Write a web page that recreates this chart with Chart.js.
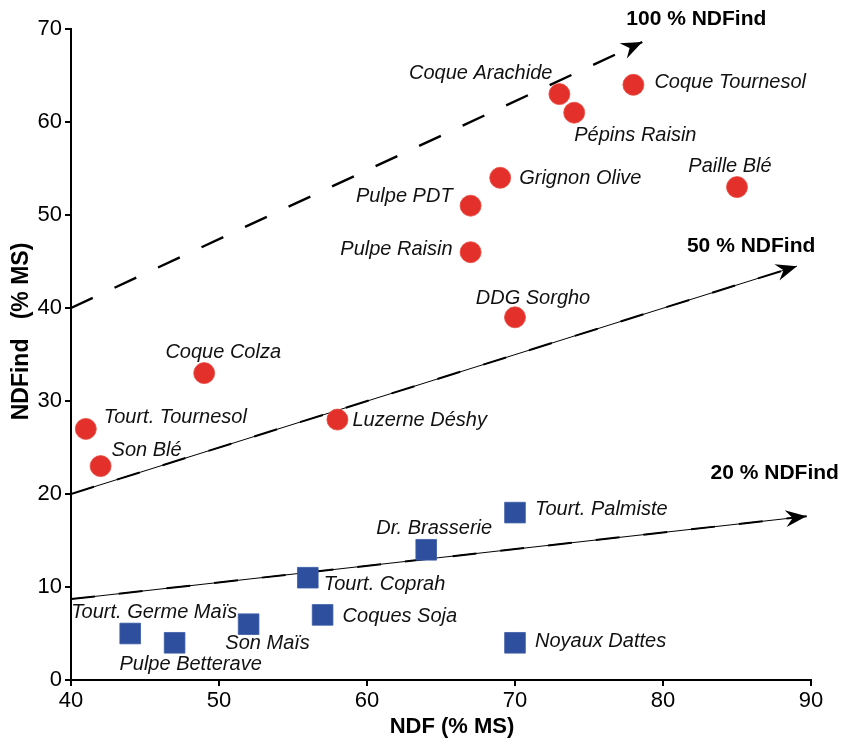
<!DOCTYPE html>
<html>
<head>
<meta charset="utf-8">
<script src="https://cdn.jsdelivr.net/npm/chart.js@4/dist/chart.umd.min.js"></script>
<style>
  body { margin: 0; background: #fff; }
  #wrap { width: 849px; height: 746px; }
</style>
</head>
<body>
<div id="wrap"><canvas id="myChart_ndf" width="849" height="746"></canvas></div>
<script>
// donnees : fourrages / coproduits riches en NDFind (ronds rouges)
var redNames = ['Tourt. Tournesol', 'Son Blé', 'Coque Colza', 'Luzerne Déshy', 'DDG Sorgho', 'Pulpe Raisin',
                'Pulpe PDT', 'Grignon Olive', 'Coque Arachide', 'Pépins Raisin', 'Coque Tournesol', 'Paille Blé'];
var redNDF = [41, 42, 49, 58, 70, 67, 67, 69, 73, 74, 78, 85];
var redNDFind = [27, 23, 33, 28, 39, 46, 51, 54, 63, 61, 64, 53];

// coproduits pauvres en NDFind (carres bleus)
var blueNames = ['Tourt. Germe Maïs', 'Pulpe Betterave', 'Son Maïs', 'Tourt. Coprah', 'Coques Soja',
                 'Dr. Brasserie', 'Tourt. Palmiste', 'Noyaux Dattes'];
var blueNDF = [44, 47, 52, 56, 57, 64, 70, 70];
var blueNDFind = [5, 4, 6, 11, 7, 14, 18, 4];

// droites de reference (debut / fin)
var refNames = ['100 % NDFind', '50 % NDFind', '20 % NDFind'];
var refStartX = [40, 40, 40];
var refStartY = [40, 20, 8.7];
var refEndX = [78.6, 89.05, 89.7];
var refEndY = [68.6, 44.5, 17.6];

var xTicks = [40, 50, 60, 70, 80, 90];
var yTicks = [0, 10, 20, 30, 40, 50, 60, 70];
var xTitle = 'NDF (% MS)';
var yTitle = 'NDFind   (% MS)';

// position des etiquettes (px par rapport au point)
var labelPos = {
    'Tourt. Tournesol': [18, -11, 'left'],
    'Son Blé': [11, -16, 'left'],
    'Coque Colza': [19, -21, 'center'],
    'Luzerne Déshy': [15, 1, 'left'],
    'DDG Sorgho': [18, -19, 'center'],
    'Pulpe Raisin': [-18, -3, 'right'],
    'Pulpe PDT': [-18, -9, 'right'],
    'Grignon Olive': [19, 1, 'left'],
    'Coque Arachide': [-7, -21, 'right'],
    'Pépins Raisin': [0, 23, 'left'],
    'Coque Tournesol': [21, -2, 'left'],
    'Paille Blé': [-7, -21, 'center'],
    'Tourt. Germe Maïs': [24, -21, 'center'],
    'Pulpe Betterave': [16, 22, 'center'],
    'Son Maïs': [19, 19, 'center'],
    'Tourt. Coprah': [16, 7, 'left'],
    'Coques Soja': [20, 2, 'left'],
    'Dr. Brasserie': [8, -21, 'center'],
    'Tourt. Palmiste': [20, -3, 'left'],
    'Noyaux Dattes': [20, -1, 'left']
};
var refLabelPos = [[-16, -23], [-110, -20], [-96, -43]];

var FONT = "'Liberation Sans', Arial, Helvetica, sans-serif";

function toXY(xs, ys) {
    return xs.map(function(x, i) { return {x: x, y: ys[i]}; });
}

var datasets = [
    {
        label: 'rouge',
        data: toXY(redNDF, redNDFind),
        names: redNames,
        pointStyle: 'circle',
        pointRadius: 10.5,
        backgroundColor: '#e3302a',
        borderColor: '#e84a40',
        borderWidth: 0.8,
        order: 0
    },
    {
        label: 'bleu',
        data: toXY(blueNDF, blueNDFind),
        names: blueNames,
        pointStyle: 'rect',
        pointRadius: 14.6,
        backgroundColor: '#2d4f9d',
        borderColor: '#3a5aa6',
        borderWidth: 0.8,
        order: 0
    }
];

refNames.forEach(function(name, i) {
    var pts = [{x: refStartX[i], y: refStartY[i]}, {x: refEndX[i], y: refEndY[i]}];
    // trait fin continu sous les tirets (sauf 100 %)
    if (i > 0) {
        datasets.push({
            label: name + ' fin',
            data: pts,
            showLine: true,
            pointRadius: 0,
            borderColor: '#000',
            borderWidth: 1,
            order: 2
        });
    }
    datasets.push({
        label: name,
        data: pts,
        showLine: true,
        pointRadius: 0,
        borderColor: '#000',
        borderWidth: i == 0 ? 2.4 : 2,
        borderDash: [24, 24],
        arrow: true,
        refIndex: i,
        order: 1
    });
});

// etiquettes des points + fleches + textes des droites + titres d'axes
var labelPlugin = {
    id: 'labels',
    afterDatasetsDraw: function(chart) {
        var c = chart.ctx;
        c.save();
        chart.data.datasets.forEach(function(ds, di) {
            var meta = chart.getDatasetMeta(di);
            if (ds.names) {
                c.font = 'italic 20px ' + FONT;
                c.fillStyle = '#111';
                c.textBaseline = 'middle';
                meta.data.forEach(function(el, j) {
                    var p = labelPos[ds.names[j]] || [15, 0, 'left'];
                    c.textAlign = p[2];
                    c.fillText(ds.names[j], el.x + p[0], el.y + p[1]);
                });
            }
            if (ds.arrow) {
                var a = meta.data[0], b = meta.data[1];
                var ang = Math.atan2(b.y - a.y, b.x - a.x);
                c.save();
                c.translate(b.x, b.y);
                c.rotate(ang);
                c.fillStyle = '#000';
                c.beginPath();
                c.moveTo(0, 0);
                c.lineTo(-21, -8.5);
                c.lineTo(-14, 0);
                c.lineTo(-21, 8.5);
                c.closePath();
                c.fill();
                c.restore();
                var o = refLabelPos[ds.refIndex];
                c.font = 'bold 21px ' + FONT;
                c.textAlign = 'left';
                c.textBaseline = 'middle';
                c.fillStyle = '#000';
                c.fillText(ds.label, b.x + o[0], b.y + o[1]);
            }
        });

        // titres des axes
        var area = chart.chartArea;
        c.fillStyle = '#000';
        c.textAlign = 'center';
        c.textBaseline = 'middle';
        c.font = 'bold 22px ' + FONT;
        c.fillText(xTitle, (area.left + area.right) / 2 + 11, 727);
        c.save();
        c.translate(22, (area.top + area.bottom) / 2 - 23);
        c.rotate(-Math.PI / 2);
        c.font = 'bold 23px ' + FONT;
        c.fillText(yTitle, 0, 0);
        c.restore();
        c.restore();
    }
};

var ctx = document.getElementById('myChart_ndf');
var myChart = new Chart(ctx, {
    type: 'scatter',
    data: { datasets: datasets },
    plugins: [labelPlugin],
    options: {
        responsive: false,
        animation: false,
        layout: { padding: { top: 29, right: 38, left: 0, bottom: 0 } },
        plugins: {
            legend: { display: false },
            tooltip: { enabled: false }
        },
        scales: {
            x: {
                type: 'linear',
                min: 40,
                max: 90,
                afterFit: function(s) { s.height = 66; },
                afterBuildTicks: function(s) { s.ticks = xTicks.map(function(v) { return {value: v}; }); },
                ticks: { color: '#000', font: { size: 22, family: FONT }, padding: 2 },
                border: { display: true, color: '#000', width: 2 },
                grid: { drawOnChartArea: false, drawTicks: true, tickLength: 6, color: '#000', lineWidth: 2 },
                title: { display: false }
            },
            y: {
                type: 'linear',
                min: 0,
                max: 70,
                afterFit: function(s) { s.width = 71; },
                afterBuildTicks: function(s) { s.ticks = yTicks.map(function(v) { return {value: v}; }); },
                ticks: { color: '#000', font: { size: 22, family: FONT }, padding: 3 },
                border: { display: true, color: '#000', width: 2 },
                grid: { drawOnChartArea: false, drawTicks: true, tickLength: 6, color: '#000', lineWidth: 2 },
                title: { display: false }
            }
        }
    }
});
</script>
</body>
</html>
